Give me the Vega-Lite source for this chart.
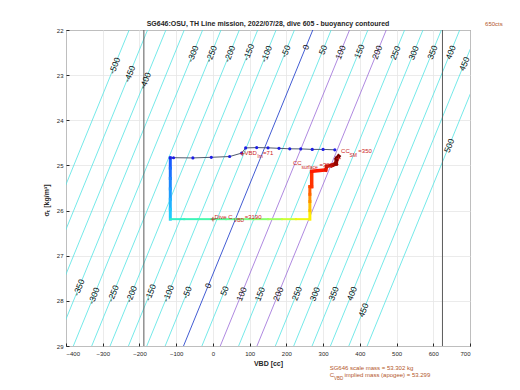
{
  "$schema": "https://vega.github.io/schema/vega-lite/v6.json",
  "width": 404,
  "height": 316,
  "autosize": "none",
  "padding": {"left": 66, "top": 30, "right": 50, "bottom": 44},
  "background": "white",
  "config": {
    "view": {"stroke": "#262626", "strokeWidth": 1},
    "font": "Liberation Sans",
    "axis": {"domain": false, "tickColor": "#262626", "tickSize": -3, "labelColor": "#262626", "labelFontSize": 6, "labelOverlap": false, "labelBound": false, "gridColor": "#e6e6e6", "gridWidth": 0.8, "titleColor": "#262626"}
  },
  "encoding": {
    "x": {"field": "v", "type": "quantitative",
      "scale": {"domain": [-400, 700], "nice": false, "zero": false},
      "axis": {"title": "VBD [cc]", "values": [-400, -300, -200, -100, 0, 100, 200, 300, 400, 500, 600, 700], "labelOverlap": false, "titleFontSize": 7, "titleFontWeight": "bold", "titlePadding": 3, "labelPadding": 7}},
    "y": {"field": "s", "type": "quantitative",
      "scale": {"domain": [22, 29], "reverse": true, "nice": false, "zero": false},
      "axis": {"title": "σₜ [kg/m³]", "values": [22, 23, 24, 25, 26, 27, 28, 29], "labelOverlap": false, "titleFontSize": 7, "titleFontWeight": "bold", "titleX": -20, "titleY": 170, "titleBaseline": "middle", "labelPadding": 6}}
  },
  "layer": [
    {
      "data": {"values": [
        {"b": -500, "v": -228, "v2": -580, "s": 22, "s2": 29, "kind": "level"},
        {"b": -450, "v": -178, "v2": -530, "s": 22, "s2": 29, "kind": "level"},
        {"b": -400, "v": -128, "v2": -480, "s": 22, "s2": 29, "kind": "level"},
        {"b": -350, "v": -78, "v2": -430, "s": 22, "s2": 29, "kind": "level"},
        {"b": -300, "v": -28, "v2": -380, "s": 22, "s2": 29, "kind": "level"},
        {"b": -250, "v": 22, "v2": -330, "s": 22, "s2": 29, "kind": "level"},
        {"b": -200, "v": 72, "v2": -280, "s": 22, "s2": 29, "kind": "level"},
        {"b": -150, "v": 122, "v2": -230, "s": 22, "s2": 29, "kind": "level"},
        {"b": -100, "v": 172, "v2": -180, "s": 22, "s2": 29, "kind": "level"},
        {"b": -50, "v": 222, "v2": -130, "s": 22, "s2": 29, "kind": "level"},
        {"b": 0, "v": 272, "v2": -80, "s": 22, "s2": 29, "kind": "zero"},
        {"b": 50, "v": 322, "v2": -30, "s": 22, "s2": 29, "kind": "level"},
        {"b": 100, "v": 372, "v2": 20, "s": 22, "s2": 29, "kind": "mark"},
        {"b": 150, "v": 422, "v2": 70, "s": 22, "s2": 29, "kind": "level"},
        {"b": 200, "v": 472, "v2": 120, "s": 22, "s2": 29, "kind": "mark"},
        {"b": 250, "v": 522, "v2": 170, "s": 22, "s2": 29, "kind": "level"},
        {"b": 300, "v": 572, "v2": 220, "s": 22, "s2": 29, "kind": "level"},
        {"b": 350, "v": 622, "v2": 270, "s": 22, "s2": 29, "kind": "level"},
        {"b": 400, "v": 672, "v2": 320, "s": 22, "s2": 29, "kind": "level"},
        {"b": 450, "v": 722, "v2": 370, "s": 22, "s2": 29, "kind": "level"},
        {"b": 500, "v": 772, "v2": 420, "s": 22, "s2": 29, "kind": "level"}
      ]},
      "mark": {"type": "rule", "clip": true, "strokeWidth": 0.8},
      "encoding": {
        "x2": {"field": "v2"},
        "y2": {"field": "s2"},
        "color": {"field": "kind", "type": "nominal", "scale": {"domain": ["level", "zero", "mark"], "range": ["#52e3e3", "#1232c8", "#9b6bd8"]}, "legend": null}
      }
    },
    {
      "data": {"values": [{"v": -188, "v2": -188, "s": 22, "s2": 29}, {"v": 625, "v2": 625, "s": 22, "s2": 29}]},
      "mark": {"type": "rule", "color": "#5a5a5a", "strokeWidth": 1},
      "encoding": {"x2": {"field": "v2"}, "y2": {"field": "s2"}}
    },
    {
      "data": {"values": [
        {"lab": "-500", "v": -267.6, "s": 22.787},
        {"lab": "-450", "v": -226.8, "s": 22.971},
        {"lab": "-400", "v": -184.3, "s": 23.12},
        {"lab": "-300", "v": -54.6, "s": 22.528},
        {"lab": "-250", "v": -4.6, "s": 22.528},
        {"lab": "-200", "v": 45.4, "s": 22.528},
        {"lab": "-150", "v": 97.3, "s": 22.492},
        {"lab": "-100", "v": 145.4, "s": 22.528},
        {"lab": "-50", "v": 198.4, "s": 22.47},
        {"lab": "0", "v": 252.8, "s": 22.381},
        {"lab": "50", "v": 299.9, "s": 22.439},
        {"lab": "100", "v": 347.3, "s": 22.492},
        {"lab": "150", "v": 398.4, "s": 22.47},
        {"lab": "200", "v": 447.3, "s": 22.492},
        {"lab": "250", "v": 496.5, "s": 22.506},
        {"lab": "300", "v": 546.5, "s": 22.506},
        {"lab": "350", "v": 597.3, "s": 22.492},
        {"lab": "400", "v": 647.3, "s": 22.492},
        {"lab": "450", "v": 684.3, "s": 22.749},
        {"lab": "500", "v": 643.2, "s": 24.561},
        {"lab": "-350", "v": -364.9, "s": 27.703},
        {"lab": "-300", "v": -324.1, "s": 27.887},
        {"lab": "-250", "v": -271.6, "s": 27.836},
        {"lab": "-200", "v": -222.2, "s": 27.849},
        {"lab": "-150", "v": -170.4, "s": 27.814},
        {"lab": "-100", "v": -121.6, "s": 27.836},
        {"lab": "-50", "v": -70.4, "s": 27.814},
        {"lab": "0", "v": -12.9, "s": 27.665},
        {"lab": "50", "v": 31.5, "s": 27.776},
        {"lab": "100", "v": 77.8, "s": 27.849},
        {"lab": "150", "v": 127.8, "s": 27.849},
        {"lab": "200", "v": 177.8, "s": 27.849},
        {"lab": "250", "v": 228.4, "s": 27.836},
        {"lab": "300", "v": 277.8, "s": 27.849},
        {"lab": "350", "v": 328.4, "s": 27.836},
        {"lab": "400", "v": 378.4, "s": 27.836},
        {"lab": "450", "v": 409.9, "s": 28.204}
      ]},
      "mark": {"type": "text", "angle": 292, "fontSize": 8.5, "color": "#111111", "align": "center", "baseline": "middle", "font": "Liberation Sans"},
      "encoding": {"text": {"field": "lab"}}
    },
    {
      "data": {"values": [
        {"v": -116, "s": 24.83, "v2": -116, "s2": 25.06, "t": 0.0, "w": 3},
        {"v": -116, "s": 25.06, "v2": -116, "s2": 25.29, "t": 0.06, "w": 3},
        {"v": -116, "s": 25.29, "v2": -116, "s2": 25.52, "t": 0.12, "w": 3},
        {"v": -116, "s": 25.52, "v2": -116, "s2": 25.75, "t": 0.18, "w": 3},
        {"v": -116, "s": 25.75, "v2": -116, "s2": 25.97, "t": 0.24, "w": 3},
        {"v": -116, "s": 25.97, "v2": -116, "s2": 26.19, "t": 0.3, "w": 3},
        {"v": -116, "s": 26.19, "v2": -78, "s2": 26.19, "t": 0.34, "w": 2},
        {"v": -78, "s": 26.19, "v2": -40, "s2": 26.19, "t": 0.38, "w": 2},
        {"v": -40, "s": 26.19, "v2": -2, "s2": 26.19, "t": 0.42, "w": 2},
        {"v": -2, "s": 26.19, "v2": 36, "s2": 26.19, "t": 0.46, "w": 2},
        {"v": 36, "s": 26.19, "v2": 74, "s2": 26.19, "t": 0.5, "w": 2},
        {"v": 74, "s": 26.19, "v2": 112, "s2": 26.19, "t": 0.54, "w": 2},
        {"v": 112, "s": 26.19, "v2": 150, "s2": 26.19, "t": 0.58, "w": 2},
        {"v": 150, "s": 26.19, "v2": 188, "s2": 26.19, "t": 0.62, "w": 2},
        {"v": 188, "s": 26.19, "v2": 226, "s2": 26.19, "t": 0.66, "w": 2},
        {"v": 226, "s": 26.19, "v2": 264, "s2": 26.19, "t": 0.7, "w": 2},
        {"v": 264, "s": 26.19, "v2": 264, "s2": 26.0, "t": 0.72, "w": 3},
        {"v": 264, "s": 26.0, "v2": 264, "s2": 25.8, "t": 0.76, "w": 3},
        {"v": 264, "s": 25.8, "v2": 264, "s2": 25.64, "t": 0.8, "w": 3},
        {"v": 264, "s": 25.64, "v2": 264, "s2": 25.47, "t": 0.84, "w": 3},
        {"v": 264, "s": 25.47, "v2": 269, "s2": 25.47, "t": 0.86, "w": 3},
        {"v": 269, "s": 25.47, "v2": 269, "s2": 25.14, "t": 0.88, "w": 3.5},
        {"v": 269, "s": 25.13, "v2": 307, "s2": 25.1, "t": 0.9, "w": 3.5},
        {"v": 307, "s": 25.1, "v2": 310, "s2": 25.02, "t": 0.92, "w": 3.5},
        {"v": 310, "s": 25.02, "v2": 324, "s2": 25.0, "t": 0.94, "w": 3.5},
        {"v": 324, "s": 25.0, "v2": 335, "s2": 24.96, "t": 0.96, "w": 4},
        {"v": 335, "s": 24.96, "v2": 337, "s2": 24.85, "t": 0.98, "w": 4},
        {"v": 337, "s": 24.85, "v2": 342, "s2": 24.8, "t": 1.0, "w": 4}
      ]},
      "mark": {"type": "rule", "strokeCap": "square"},
      "encoding": {
        "x2": {"field": "v2"},
        "y2": {"field": "s2"},
        "strokeWidth": {"field": "w", "type": "quantitative", "scale": null},
        "color": {"field": "t", "type": "quantitative", "scale": {"type": "linear", "interpolate": "rgb", "domain": [0, 0.3, 0.34, 0.5, 0.62, 0.68, 0.72, 0.8, 0.9, 1], "range": ["#1a5cff", "#21c8ff", "#30f0c8", "#60ff90", "#a0ff60", "#e0ff20", "#ffee00", "#ff9000", "#ff1a00", "#7a0000"]}, "legend": null}
      }
    },
    {
      "data": {"values": [
        {"i": 0, "v": -116.2, "s": 24.834},
        {"i": 1, "v": -107.2, "s": 24.829},
        {"i": 2, "v": -54.5, "s": 24.834},
        {"i": 3, "v": -4.4, "s": 24.82},
        {"i": 4, "v": 45.5, "s": 24.803},
        {"i": 5, "v": 78.3, "s": 24.727},
        {"i": 6, "v": 89.2, "s": 24.612},
        {"i": 7, "v": 119.2, "s": 24.605},
        {"i": 8, "v": 150, "s": 24.61},
        {"i": 9, "v": 180, "s": 24.621},
        {"i": 10, "v": 209.2, "s": 24.632},
        {"i": 11, "v": 239.2, "s": 24.634},
        {"i": 12, "v": 270.5, "s": 24.645},
        {"i": 13, "v": 300, "s": 24.645},
        {"i": 14, "v": 331.9, "s": 24.654}
      ]},
      "layer": [
        {"mark": {"type": "line", "color": "#4f5a6e", "strokeWidth": 1},
         "encoding": {"order": {"field": "i"}}},
        {"mark": {"type": "point", "filled": true, "color": "#1d1de6", "size": 10, "opacity": 1}}
      ]
    },
    {
      "data": {"values": [
        {"v": 0, "s": 26.19},
        {"v": 80, "s": 24.74},
        {"v": 342, "s": 24.85}
      ]},
      "mark": {"type": "point", "shape": "M-1,0L1,0M0,-1L0,1", "filled": false, "color": "#cc2222", "strokeWidth": 0.8, "size": 20, "opacity": 1}
    },
    {
      "data": {"values": [
        {"txt": "Dive C", "v": 4.6, "s": 26.135, "sz": 6},
        {"txt": "VBD", "v": 57.3, "s": 26.208, "sz": 5},
        {"txt": "=3190", "v": 86.4, "s": 26.135, "sz": 6},
        {"txt": "VBD", "v": 86, "s": 24.72, "sz": 6},
        {"txt": "lm", "v": 121.5, "s": 24.8, "sz": 5},
        {"txt": "=71", "v": 136.6, "s": 24.72, "sz": 6},
        {"txt": "CC", "v": 218, "s": 24.95, "sz": 6},
        {"txt": "surface", "v": 241, "s": 25.04, "sz": 5},
        {"txt": "=322", "v": 290, "s": 24.99, "sz": 6},
        {"txt": "CC", "v": 349, "s": 24.68, "sz": 6},
        {"txt": "SM", "v": 372, "s": 24.76, "sz": 5},
        {"txt": "=350", "v": 396, "s": 24.68, "sz": 6}
      ]},
      "mark": {"type": "text", "align": "left", "baseline": "middle", "color": "#cc2222", "font": "Liberation Sans"},
      "encoding": {
        "text": {"field": "txt"},
        "size": {"field": "sz", "type": "quantitative", "scale": null}
      }
    },
    {
      "data": {"values": [
        {"txt": "SG646:OSU, TH Line mission, 2022/07/28, dive 605 - buoyancy contoured", "v": 150, "s": 21.87}
      ]},
      "mark": {"type": "text", "align": "center", "baseline": "middle", "color": "#262626", "font": "Liberation Sans", "fontWeight": "bold", "fontSize": 7},
      "encoding": {"text": {"field": "txt"}}
    },
    {
      "data": {"values": [
        {"txt": "650cts", "v": 741, "s": 21.87, "sz": 6},
        {"txt": "SG646 scale mass = 53.302 kg", "v": 318, "s": 29.477, "sz": 6},
        {"txt": "C", "v": 318, "s": 29.645, "sz": 6},
        {"txt": "VBD", "v": 330, "s": 29.72, "sz": 4.5},
        {"txt": "implied mass (apogee) = 53.299", "v": 358, "s": 29.645, "sz": 6}
      ]},
      "mark": {"type": "text", "align": "left", "baseline": "middle", "color": "#b3562a", "font": "Liberation Sans"},
      "encoding": {
        "text": {"field": "txt"},
        "size": {"field": "sz", "type": "quantitative", "scale": null}
      }
    }
  ]
}
